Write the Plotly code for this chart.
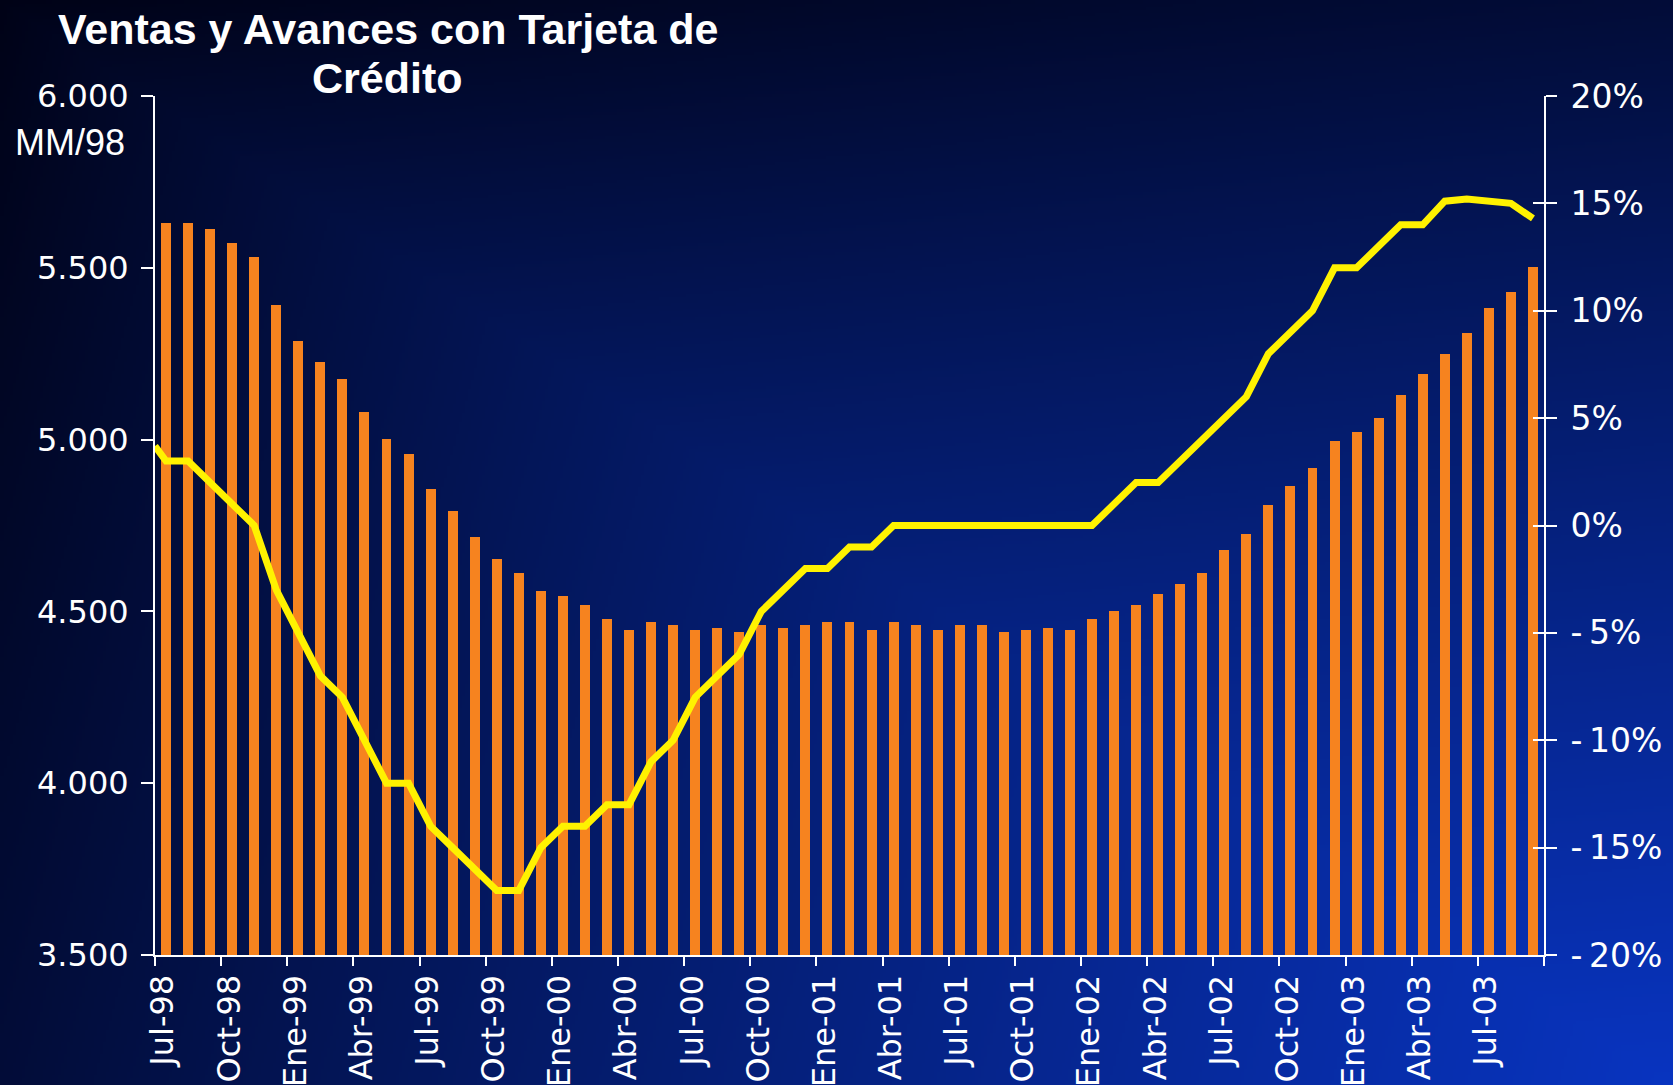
import base64
import struct
import zlib

import numpy as np
import plotly.graph_objects as go

# ---------------- data ----------------
meses = [
    "Jul-98", "Ago-98", "Sep-98", "Oct-98", "Nov-98", "Dic-98",
    "Ene-99", "Feb-99", "Mar-99", "Abr-99", "May-99", "Jun-99",
    "Jul-99", "Ago-99", "Sep-99", "Oct-99", "Nov-99", "Dic-99",
    "Ene-00", "Feb-00", "Mar-00", "Abr-00", "May-00", "Jun-00",
    "Jul-00", "Ago-00", "Sep-00", "Oct-00", "Nov-00", "Dic-00",
    "Ene-01", "Feb-01", "Mar-01", "Abr-01", "May-01", "Jun-01",
    "Jul-01", "Ago-01", "Sep-01", "Oct-01", "Nov-01", "Dic-01",
    "Ene-02", "Feb-02", "Mar-02", "Abr-02", "May-02", "Jun-02",
    "Jul-02", "Ago-02", "Sep-02", "Oct-02", "Nov-02", "Dic-02",
    "Ene-03", "Feb-03", "Mar-03", "Abr-03", "May-03", "Jun-03",
    "Jul-03", "Ago-03", "Sep-03",
]

# Ventas y avances (MM de $ de 1998)
ventas = [
    5630, 5630, 5612, 5571, 5531, 5392, 5287, 5226, 5175, 5081,
    5003, 4957, 4855, 4791, 4716, 4652, 4612, 4559, 4546, 4520,
    4479, 4447, 4468, 4459, 4447, 4453, 4441, 4459, 4453, 4459,
    4468, 4468, 4447, 4468, 4459, 4447, 4459, 4459, 4441, 4447,
    4453, 4447, 4479, 4500, 4520, 4552, 4579, 4612, 4679, 4725,
    4809, 4864, 4917, 4996, 5023, 5062, 5131, 5192, 5250, 5311,
    5384, 5430, 5501,
]

# Variacion anual (%)
variacion = [
    3, 3, 2, 1, 0, -3, -5, -7, -8, -10,
    -12, -12, -14, -15, -16, -17, -17, -15, -14, -14,
    -13, -13, -11, -10, -8, -7, -6, -4, -3, -2,
    -2, -1, -1, 0, 0, 0, 0, 0, 0, 0,
    0, 0, 0, 1, 2, 2, 3, 4, 5, 6,
    8, 9, 10, 12, 12, 13, 14, 14, 15.1, 15.2,
    15.1, 15.0, 14.3,
]
variacion_apertura = 3.7  # value where the line meets the left axis

ventas_ticks = [3500, 4000, 4500, 5000, 5500, 6000]
pct_ticks = [-20, -15, -10, -5, 0, 5, 10, 15, 20]

titulo = ["Ventas y Avances con Tarjeta de", "Crédito"]
unidad = "MM/98"

# ---------------- geometry ----------------
W, H = 1673, 1085
L, R, T, B = 155, 129, 96, 130
PW = W - L - R
PH = H - T - B


def px_x(x):
    return (x - L) / PW


def px_y(y):
    return (H - B - y) / PH


def gradient_png(w=560, h=364):
    s = np.linspace(0.0, 1.0, w)[None, :]
    u = np.linspace(0.0, 1.0, h)[:, None]
    t = 0.7 * np.minimum(s, u) + 0.15 * (s + u)
    t = np.clip(t, 0, 1) ** 0.85
    dark = np.array([0, 2, 22], dtype=float)
    bright = np.array([8, 52, 192], dtype=float)
    img = dark + t[..., None] * (bright - dark)
    img = np.clip(np.round(img), 0, 255).astype(np.uint8)
    raw = b"".join(b"\x00" + img[r].tobytes() for r in range(h))

    def chunk(tag, data):
        return (struct.pack(">I", len(data)) + tag + data
                + struct.pack(">I", zlib.crc32(tag + data) & 0xFFFFFFFF))

    png = (b"\x89PNG\r\n\x1a\n"
           + chunk(b"IHDR", struct.pack(">IIBBBBB", w, h, 8, 2, 0, 0, 0))
           + chunk(b"IDAT", zlib.compress(raw, 9))
           + chunk(b"IEND", b""))
    return "data:image/png;base64," + base64.b64encode(png).decode()


n = len(ventas)
bar_x = [i + 0.5 for i in range(n)]
line_x = [0] + bar_x
line_y = [variacion_apertura] + variacion

tick_font = dict(family="DejaVu Sans", size=32, color="white")
WHITE = "#FFFFFF"

fig = go.Figure()
fig.add_trace(go.Bar(
    x=bar_x, y=ventas, width=0.45,
    marker=dict(color="#F6831F", line=dict(width=0)),
    yaxis="y", showlegend=False,
))
fig.add_trace(go.Scatter(
    x=line_x, y=line_y, mode="lines",
    line=dict(color="#FFF200", width=7),
    yaxis="y2", showlegend=False, cliponaxis=False,
))
fig.add_trace(go.Scatter(
    x=[None], y=[None], yaxis="y3", showlegend=False, hoverinfo="skip",
))

fig.update_layout(
    width=W, height=H,
    margin=dict(l=L, r=R, t=T, b=B, autoexpand=False),
    paper_bgcolor="#000a30",
    plot_bgcolor="rgba(0,0,0,0)",
    separators=",.",
    showlegend=False,
    bargap=0,
    xaxis=dict(
        range=[0, n], tickvals=list(range(0, n + 1, 3)),
        ticktext=meses[::3] + [""],
        tickangle=-90, ticks="outside", ticklen=9, tickwidth=2,
        tickcolor=WHITE, showline=True, linecolor=WHITE, linewidth=2,
        showgrid=False, zeroline=False, tickfont=tick_font,
        ticklabelshift=8, ticklabelstandoff=-4, automargin=False,
    ),
    yaxis=dict(
        range=[ventas_ticks[0], ventas_ticks[-1]], tickvals=ventas_ticks,
        tickformat=",d", ticks="outside", ticklen=12, tickwidth=2,
        tickcolor=WHITE, showline=True, linecolor=WHITE, linewidth=2,
        showgrid=False, zeroline=False, tickfont=tick_font,
        ticklabelstandoff=6, automargin=False,
    ),
    yaxis2=dict(
        overlaying="y", side="right", anchor="x",
        range=[pct_ticks[0], pct_ticks[-1]], tickvals=pct_ticks,
        ticktext=[("-\u2009" if v < 0 else "") + f"{abs(v)}%" for v in pct_ticks],
        ticks="outside", ticklen=11, tickwidth=2, tickcolor=WHITE,
        showline=True, linecolor=WHITE, linewidth=2,
        showgrid=False, zeroline=False,
        tickfont=dict(family="DejaVu Sans", size=33, color="white"),
        ticklabelstandoff=7, automargin=False,
    ),
    yaxis3=dict(
        overlaying="y", side="right", anchor="x",
        range=[pct_ticks[0], pct_ticks[-1]], tickvals=pct_ticks,
        ticks="inside", ticklen=11, tickwidth=2, tickcolor=WHITE,
        showticklabels=False, showline=False,
        showgrid=False, zeroline=False, automargin=False,
    ),
)

fig.add_layout_image(dict(
    source=gradient_png(), xref="paper", yref="paper",
    x=-L / PW, y=1 + T / PH, sizex=W / PW, sizey=H / PH,
    xanchor="left", yanchor="top", sizing="stretch", layer="below",
))

title_font = dict(family="Liberation Sans", size=43, color="white")
fig.add_annotation(text=f"<b>{titulo[0]}</b>", xref="paper", yref="paper",
                   x=px_x(388), y=px_y(29), xanchor="center", yanchor="middle",
                   showarrow=False, font=title_font)
fig.add_annotation(text=f"<b>{titulo[1]}</b>", xref="paper", yref="paper",
                   x=px_x(387), y=px_y(78), xanchor="center", yanchor="middle",
                   showarrow=False, font=title_font)
fig.add_annotation(text=unidad, xref="paper", yref="paper",
                   x=px_x(127), y=px_y(143), xanchor="right", yanchor="middle",
                   showarrow=False,
                   font=dict(family="Liberation Sans", size=36, color="white"))

fig.write_html(
    "out.html",
    config={"displayModeBar": False},
    post_script="document.body.style.margin='0';document.body.style.padding='0';"
                "document.documentElement.style.overflow='hidden';",
)
